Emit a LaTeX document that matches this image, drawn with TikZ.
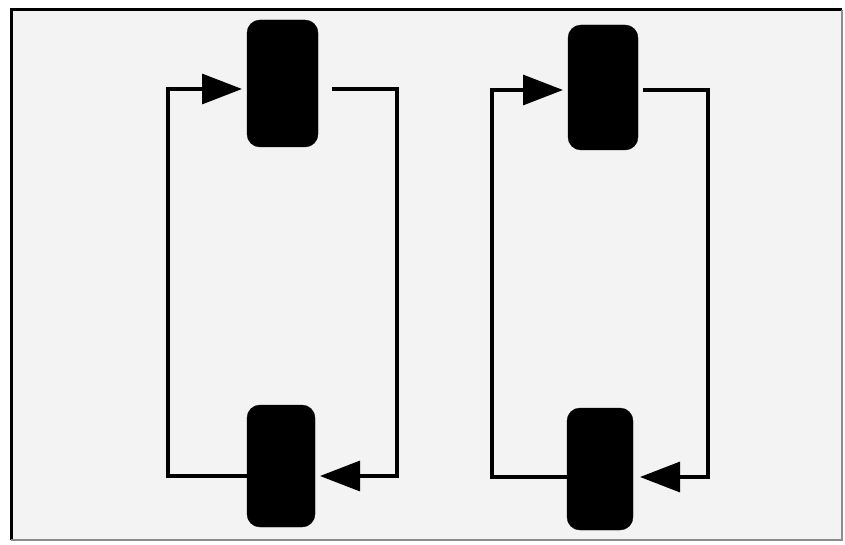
\documentclass[tikz,border=0pt]{standalone}
\usetikzlibrary{arrows.meta}
\definecolor{paper}{HTML}{F3F3F3}
\tikzset{
  drum/.style={fill=black, draw=black, rounded corners=13pt, inner sep=0pt, outer sep=0pt},
  flow/.style={line width=3.2pt, line join=miter},
  tip/.style={-{Triangle[length=40pt,width=30pt]}},
}
\begin{document}
\begin{tikzpicture}[x=1pt,y=-1pt]
\useasboundingbox (0,0) rectangle (845,545);
\fill[white] (0,0) rectangle (845,545);
\fill[paper] (11,10) rectangle (842,540);
\draw[line width=3pt] (11,540) -- (11,10) -- (842,10);
\draw[line width=1.5pt, black!45] (842,10) -- (842,540) -- (11,540);

\node[drum, minimum width=71pt, minimum height=127pt] (TL) at (282.5,83.5) {};
\node[drum, minimum width=68pt, minimum height=122pt] (BL) at (281,466) {};
\node[drum, minimum width=70pt, minimum height=125pt] (TR) at (603,87.5) {};
\node[drum, minimum width=66pt, minimum height=122pt] (BR) at (600,469) {};

% left loop
\coordinate (a1) at (168,476);
\coordinate (a2) at (168,89);
\coordinate (a3) at (397,89);
\coordinate (a4) at (397,476);
\draw[flow, tip, shorten >=5pt] (BL.west |- a1) -- (a1) -- (a2) -- (TL.west |- a2);
\draw[flow, tip, shorten <=14pt, shorten >=5pt] (TL.east |- a3) -- (a3) -- (a4) -- (BL.east |- a4);

% right loop
\coordinate (b1) at (492,477);
\coordinate (b2) at (492,90);
\coordinate (b3) at (708,90);
\coordinate (b4) at (708,477);
\draw[flow, tip, shorten >=5pt] (BR.west |- b1) -- (b1) -- (b2) -- (TR.west |- b2);
\draw[flow, tip, shorten <=5pt, shorten >=7pt] (TR.east |- b3) -- (b3) -- (b4) -- (BR.east |- b4);
\end{tikzpicture}
\end{document}
